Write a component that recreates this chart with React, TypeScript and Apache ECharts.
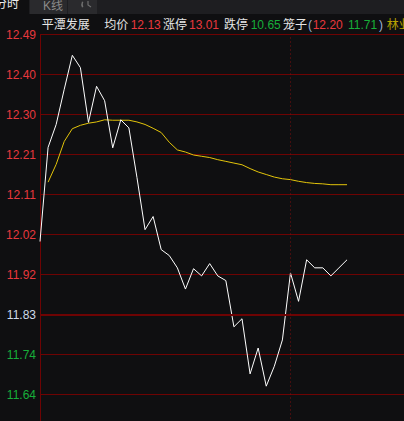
import React, { useEffect, useRef } from "react";
import * as echarts from "echarts";

const prevClose = 11.83;
const stepValue = 0.0943;
const tickLabels = ["12.49", "12.40", "12.30", "12.21", "12.11", "12.02", "11.92", "11.83", "11.74", "11.64"];
const priceSeries = [
  12.002, 12.224, 12.278, 12.361, 12.441, 12.412, 12.283, 12.368, 12.334, 12.223,
  12.289, 12.27, 12.153, 12.03, 12.061, 11.983, 11.969, 11.94, 11.89, 11.938,
  11.921, 11.95, 11.921, 11.91, 11.801, 11.82, 11.69, 11.751, 11.661, 11.708,
  11.77, 11.928, 11.861, 11.959, 11.94, 11.94, 11.921, 11.94, 11.959,
];
const avgSeries = [
  null, 12.142, 12.184, 12.238, 12.268, 12.276, 12.281, 12.284, 12.289, 12.288,
  12.288, 12.288, 12.284, 12.278, 12.269, 12.259, 12.236, 12.218, 12.213, 12.206,
  12.203, 12.2, 12.195, 12.191, 12.187, 12.183, 12.174, 12.166, 12.16, 12.154,
  12.15, 12.148, 12.144, 12.141, 12.139, 12.138, 12.136, 12.136, 12.136,
];
const stockName = "平潭发展";
const avgPrice = "12.13";
const limitUp = "13.01";
const limitDown = "10.65";
const cageHigh = "12.20";
const cageLow = "11.71";
const sector = "林业";
const dividerIndex = 31;

function buildTimes(): string[] {
  const out: string[] = [];
  for (let i = 0; i <= 120; i++) {
    const m = i <= 60 ? 570 + 2 * i : 780 + 2 * (i - 60);
    const hh = Math.floor(m / 60);
    const mm = m % 60;
    out.push(`${hh < 10 ? "0" : ""}${hh}:${mm < 10 ? "0" : ""}${mm}`);
  }
  return out;
}
const times = buildTimes();

const BG = "#0f0f11";
const GRID = "#6e0303";
const RED = "#e8383d";
const GREEN = "#17ae3a";
const WHITE = "#e6e6e6";
const FONT = "'Liberation Sans', 'Noto Sans CJK SC', sans-serif";

const W = 1100;
const H = 640;
const LEFT = 40;
const TOP = 34.5;
const SLOT = 8.08;
const ROW = 40;

export default function App() {
  const ref = useRef<HTMLDivElement>(null);
  useEffect(() => {
    if (!ref.current) return;
    const chart = echarts.init(ref.current, undefined, { renderer: "svg" });
    const gridRight = W - LEFT - SLOT * (times.length - 1);
    const gridBottom = H - TOP - ROW * 14;
    const txt = (text: string, x: number, y: number, fill: string, extra: any = {}) => ({
      type: "text",
      x,
      y,
      silent: true,
      style: { text, fill, font: `12px ${FONT}`, textVerticalAlign: "middle", ...extra },
    });
    chart.setOption({
      animation: false,
      backgroundColor: BG,
      grid: { left: LEFT, top: TOP, right: gridRight, bottom: gridBottom, outerBoundsMode: "none", containLabel: false },
      xAxis: { type: "category", data: times, boundaryGap: false, show: false },
      yAxis: [
        {
          type: "value",
          min: prevClose - 7 * stepValue,
          max: prevClose + 7 * stepValue,
          show: false,
          splitLine: { show: false },
        },
        {
          type: "value",
          min: -7,
          max: 7,
          interval: 1,
          position: "left",
          axisLine: { show: true, onZero: false, lineStyle: { color: GRID, width: 1 } },
          axisTick: { show: false },
          axisLabel: {
            margin: 4,
            fontSize: 12,
            fontFamily: FONT,
            hideOverlap: false,
            formatter: (v: number) => tickLabels[7 - Math.round(v)] ?? "",
            color: (v: number) => (v > 0 ? RED : v < 0 ? GREEN : "#cfdbe9"),
          },
          splitLine: { show: true, lineStyle: { color: GRID, width: 1 } },
        },
      ],
      series: [
        {
          name: "guides",
          type: "line",
          yAxisIndex: 0,
          data: [],
          z: 1,
          clip: false,
          markLine: {
            silent: true,
            symbol: ["none", "none"],
            label: { show: false },
            data: [
              { yAxis: prevClose, lineStyle: { color: GRID, width: 2, type: "solid" } },
              { xAxis: times[dividerIndex], lineStyle: { color: "#800f0f", width: 1, type: [1, 3] } },
            ],
          },
        },
        {
          name: "均价",
          type: "line",
          yAxisIndex: 0,
          data: avgSeries,
          symbol: "none",
          z: 3,
          lineStyle: { color: "#e3c40a", width: 1 },
        },
        {
          name: "价格",
          type: "line",
          yAxisIndex: 0,
          data: priceSeries,
          symbol: "none",
          z: 4,
          lineStyle: { color: "#ffffff", width: 1 },
        },
      ],
      graphic: [
        { type: "rect", silent: true, shape: { x: 0, y: 0, width: W, height: 14 }, style: { fill: "#1e1e21" } },
        { type: "rect", silent: true, shape: { x: 0, y: 0, width: 29, height: 14 }, style: { fill: BG } },
        { type: "rect", silent: true, shape: { x: 30, y: 0, width: 37, height: 14 }, style: { fill: "#2a2a2d" } },
        { type: "rect", silent: true, shape: { x: 68, y: 0, width: 29, height: 14 }, style: { fill: "#2a2a2d" } },
        txt("分时", -5, 3.5, "#ececec"),
        txt("K线", 43, 5.5, "#8a8a8a"),
        {
          type: "arc",
          silent: true,
          shape: { cx: 88, cy: 4.5, r: 6, startAngle: Math.PI * 1.15, endAngle: Math.PI * 2.85, clockwise: false },
          style: { stroke: "#6e6e6e", fill: "none", lineWidth: 1.5 },
        },
        {
          type: "polyline",
          silent: true,
          shape: { points: [[88, 1], [88, 5], [91, 7]] },
          style: { stroke: "#6e6e6e", fill: "none", lineWidth: 1.2 },
        },
        txt(stockName, 41.7, 24.5, WHITE),
        txt("均价", 104.3, 24.5, WHITE),
        txt(avgPrice, 130.7, 24.5, RED),
        txt("涨停", 163, 24.5, WHITE),
        txt(limitUp, 189, 24.5, RED),
        txt("跌停", 224, 24.5, WHITE),
        txt(limitDown, 250.7, 24.5, GREEN),
        txt("笼子", 283, 24.5, WHITE),
        txt("(", 308, 24.5, "#9fb6d6"),
        txt(cageHigh, 312.7, 24.5, RED),
        txt(cageLow, 348, 24.5, GREEN),
        txt(")", 379, 24.5, "#9fb6d6"),
        txt(sector, 386.7, 24.5, "#b7a300"),
      ],
    });
    return () => chart.dispose();
  }, []);
  return (
    <div
      style={{
        position: "fixed",
        left: 0,
        top: 0,
        width: 404,
        height: 421,
        overflow: "hidden",
        background: BG,
      }}
    >
      <div ref={ref} style={{ width: W, height: H }} />
    </div>
  );
}
